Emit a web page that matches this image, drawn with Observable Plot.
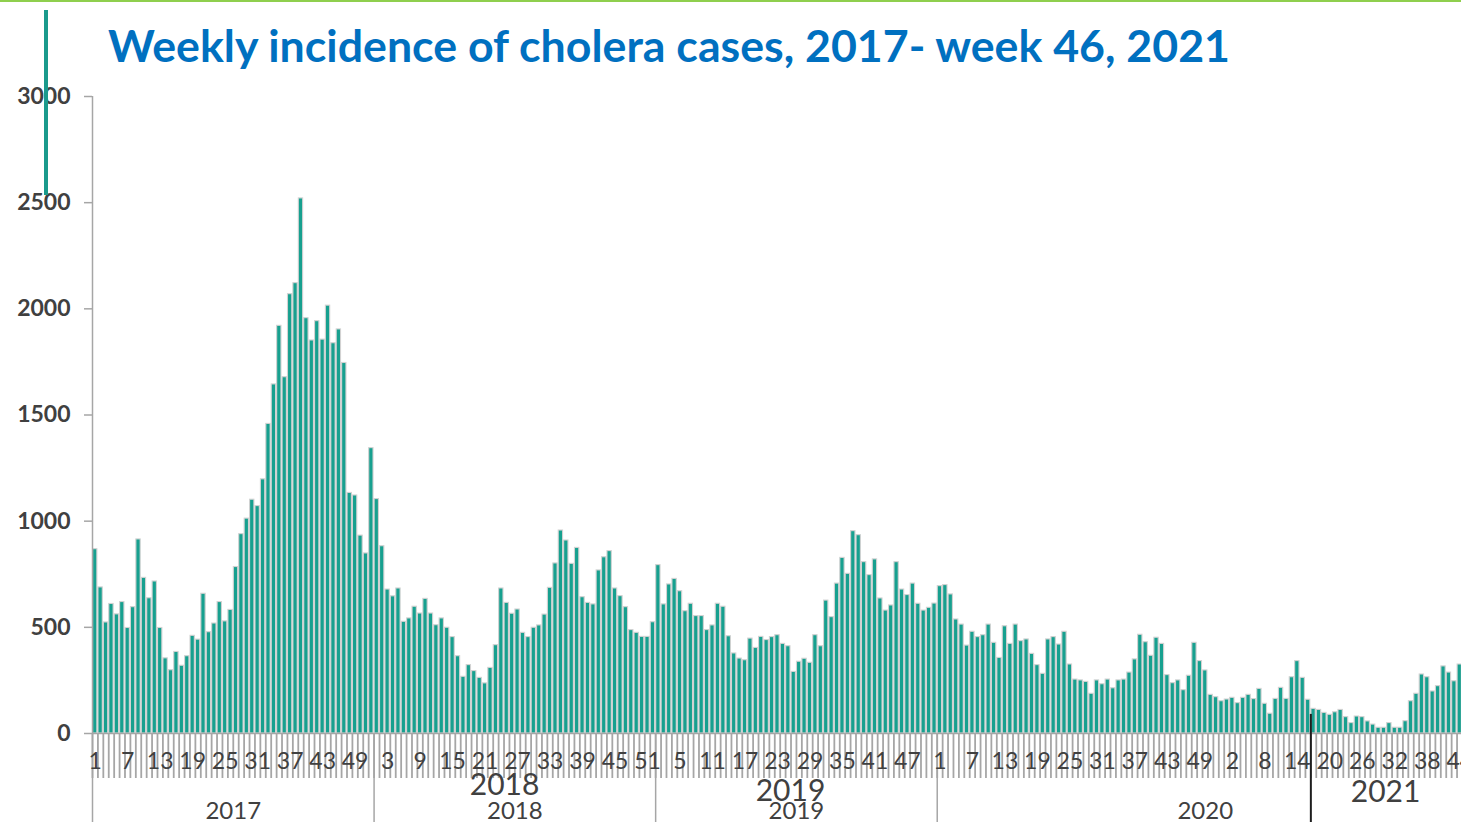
<!DOCTYPE html>
<html>
<head>
<meta charset="utf-8">
<script src="https://cdn.jsdelivr.net/npm/d3@7"></script>
<script src="https://cdn.jsdelivr.net/npm/@observablehq/plot@0.6"></script>
<style>
html, body { margin: 0; padding: 0; background: #fff; overflow: hidden; width: 1461px; height: 822px; }
#wrap { position: relative; width: 1461px; height: 822px; overflow: hidden; background: #fff; }
#chart { position: absolute; left: 0; top: 0; }
#chart svg { max-width: none !important; }
#topline { position: absolute; left: 0; top: 0; width: 1461px; height: 2px; background: #8fcf4d; }
#accent { position: absolute; left: 44px; top: 10px; width: 3.5px; height: 185px; background: #1a9a8c; }
#title { position: absolute; left: 0; top: 0; }
</style>
</head>
<body>
<div id="wrap">
  <div id="chart"></div>
  <div id="topline"></div>
  <svg id="title" width="1461" height="90">
    <text id="titleText" x="108" y="62" font-family="Lato, 'Open Sans', sans-serif" font-weight="bold" font-size="44" fill="#0070c0" textLength="1122" lengthAdjust="spacingAndGlyphs">Weekly incidence of cholera cases, 2017- week 46, 2021</text>
  </svg>
  <div id="accent"></div>
</div>
<script>
// ---- Data (weekly cholera cases) ----
const cases2017 = [868, 688, 523, 610, 561, 619, 497, 595, 914, 733,
  637, 716, 497, 354, 298, 384, 319, 364, 460, 442,
  658, 477, 518, 619, 528, 582, 784, 939, 1012, 1101,
  1071, 1197, 1458, 1644, 1920, 1678, 2069, 2121, 2520, 1956,
  1851, 1942, 1855, 2015, 1838, 1903, 1745, 1133, 1121, 932,
  848, 1344];
const cases2018 = [1104, 882, 678, 646, 683, 526, 542, 597, 565, 634,
  565, 510, 542, 498, 454, 364, 267, 322, 294, 262,
  236, 309, 416, 683, 615, 564, 584, 474, 454, 498,
  509, 560, 686, 801, 956, 909, 799, 874, 642, 615,
  608, 768, 830, 859, 683, 647, 595, 487, 474, 455,
  455, 524];
const cases2019 = [793, 608, 702, 728, 670, 576, 611, 553, 553, 487,
  509, 611, 597, 458, 377, 353, 345, 447, 403, 455,
  440, 454, 463, 422, 411, 290, 338, 352, 333, 463,
  411, 626, 548, 706, 827, 752, 953, 934, 807, 746,
  820, 636, 579, 603, 807, 678, 652, 706, 611, 579,
  592, 612];
const cases2020 = [694, 699, 655, 537, 513, 414, 479, 454, 463, 513,
  427, 356, 505, 422, 513, 435, 443, 375, 322, 281,
  443, 454, 419, 479, 325, 254, 250, 243, 187, 250,
  232, 254, 213, 250, 254, 287, 349, 465, 430, 366,
  451, 422, 275, 237, 250, 204, 272, 427, 341, 297,
  182, 171, 152];
const cases2021 = [160, 168, 143, 168, 182, 162, 210, 140, 93, 163,
  215, 163, 265, 341, 262, 159, 116, 111, 97, 88,
  100, 111, 77, 49, 80, 77, 57, 42, 27, 27,
  49, 27, 27, 58, 152, 187, 278, 265, 198, 223,
  316, 287, 246, 325];

// weeks in each axis group of the original category axis
const weeksPerYear = [52, 52, 52, 53, 46];
const yearLabels = ["2017", "2018", "2019", "2020"];     // original axis group labels (2020 group runs to the end)
const yearGroupSizes = [52, 52, 52, 99];
const overlayLabels = ["2018", "2019", "2021"];          // text boxes placed over the axis
const weekTickLabels = ["1","7","13","19","25","31","37","43","49",
  "3","9","15","21","27","33","39","45","51",
  "5","11","17","23","29","35","41","47",
  "1","7","13","19","25","31","37","43","49",
  "2","8","14","20","26","32","38","44"];
const yTicks = [0, 500, 1000, 1500, 2000, 2500, 3000];

// ---- Build table ----
const allCases = [...cases2017, ...cases2018, ...cases2019, ...cases2020, ...cases2021];
const weekly = allCases.map((v, i) => ({i, cases: v}));
const nWeeks = d3.sum(weeksPerYear);
const groupBounds = [0, ...d3.cumsum(yearGroupSizes)];
const groupMids = yearGroupSizes.map((n, k) => groupBounds[k] + n / 2);
const yearMidLabel = new Map(groupMids.map((m, k) => [m, yearLabels[k]]));
const labelPos = weekTickLabels.map((_, k) => k * 6 + 0.5);
const weekLabelMap = new Map(labelPos.map((p, k) => [p, weekTickLabels[k]]));
const start2021 = d3.sum(weeksPerYear.slice(0, 4)) + 16; // annotation line before week 17 of 2021

const font = "Lato, 'Open Sans', sans-serif";
const teal = "#17a08f";
const axisGray = "#a6a6a6";

const overlays = [
  {label: overlayLabels[0], at: 76.1, dy: 61},
  {label: overlayLabels[1], at: 128.9, dy: 67},
  {label: overlayLabels[2], at: 238.8, dy: 68}
];

const chart = Plot.plot({
  width: 1475,
  height: 822,
  marginTop: 96,
  marginBottom: 89,
  marginLeft: 92,
  marginRight: 2.2,
  style: {background: "transparent", maxWidth: "none"},
  x: {type: "linear", domain: [0, nWeeks]},
  y: {domain: [0, 3000]},
  marks: [
    Plot.rectY(weekly, {
      x1: d => d.i, x2: d => d.i + 1, y: "cases",
      insetLeft: 0.55, insetRight: 0.55,
      fill: teal, stroke: "#d2d2d2", strokeWidth: 1.1
    }),
    Plot.ruleY([0], {stroke: axisGray, strokeWidth: 1.5}),
    Plot.ruleX([0], {stroke: axisGray, strokeWidth: 1.5}),
    Plot.axisY({
      ticks: yTicks, tickSize: 8, tickPadding: 14,
      tickFormat: d => String(d),
      fontSize: 23, fontWeight: "bold", fontFamily: font,
      fill: "#404040", stroke: axisGray, strokeWidth: 1.5, label: null
    }),
    Plot.axisX(d3.range(0, nWeeks + 1), {
      tickSize: 45, fill: "none", stroke: axisGray, strokeWidth: 1.8, label: null
    }),
    Plot.axisX(groupBounds, {
      tickSize: 89, fill: "none", stroke: axisGray, strokeWidth: 1.5, label: null
    }),
    Plot.axisX(labelPos, {
      tickSize: 0, tickPadding: 19,
      tickFormat: d => weekLabelMap.get(d),
      fontSize: 23, fontFamily: font, fill: "#404040", label: null
    }),
    Plot.axisX(groupMids, {
      tickSize: 0, tickPadding: 68,
      tickFormat: d => yearMidLabel.get(d),
      fontSize: 24, fontFamily: font, fill: "#404040", label: null
    }),
    ...overlays.map(o => Plot.text([o], {
      x: "at", text: "label", frameAnchor: "bottom", dy: o.dy,
      fontSize: 30, fontFamily: font, fill: "#404040"
    })),
    Plot.ruleX([start2021], {y1: 0, y2: 90, stroke: "#1e1e1e", strokeWidth: 2}),
    Plot.axisX([start2021], {tickSize: 89, fill: "none", stroke: "#1e1e1e", strokeWidth: 2, label: null})
  ]
});
document.getElementById("chart").appendChild(chart);
</script>
</body>
</html>
